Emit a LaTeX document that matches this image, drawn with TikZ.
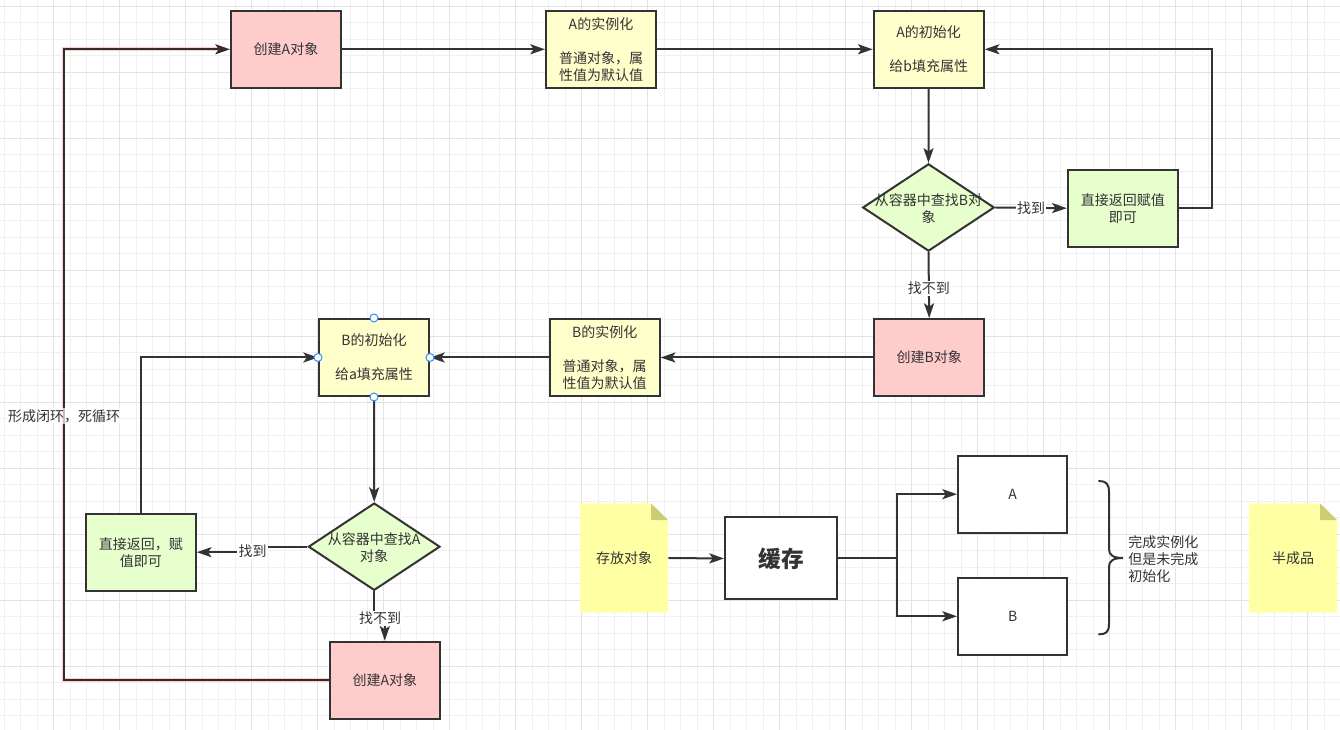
\documentclass[tikz,border=0pt]{standalone}
\usepackage{fontspec}
\newfontfamily\cjk{Noto Sans CJK SC}
\usetikzlibrary{arrows.meta,shapes.geometric,calc}
\definecolor{ln}{HTML}{333333}
\definecolor{loopln}{HTML}{3A2A2A}
\definecolor{pinkf}{HTML}{FFCCCC}
\definecolor{yelf}{HTML}{FFFFCC}
\definecolor{grnf}{HTML}{E6FFCC}
\definecolor{notef}{HTML}{FFFFA3}
\definecolor{foldf}{HTML}{CCCC77}
\definecolor{gridminor}{HTML}{F0F0F0}
\definecolor{gridmajor}{HTML}{E3E3E3}
\definecolor{hblue}{HTML}{2F8FFF}
\definecolor{halo}{HTML}{F5D2D2}
\tikzset{
  base/.style={draw=ln, line width=1.5pt, inner sep=0pt, align=center, text=ln, font=\cjk\fontsize{10.5}{12.75}\selectfont},
  stdbox/.style={base, rectangle, minimum width=82.5pt, minimum height=57.75pt},
  pinkbox/.style={stdbox, fill=pinkf},
  yelbox/.style={stdbox, fill=yelf},
  grnbox/.style={stdbox, fill=grnf},
  wbox/.style={stdbox, fill=white},
  dia/.style={base, diamond, fill=grnf, minimum width=98.7pt, minimum height=65.5pt},
  txt/.style={inner sep=0pt, align=center, text=ln, font=\cjk\fontsize{10.5}{12.75}\selectfont},
  elabel/.style={txt, fill=white, inner sep=1pt},
  arr/.style={draw=ln, line width=1.5pt, -{Stealth[length=11pt,width=7.5pt,inset=2.5pt]}},
  conn/.style={draw=ln, line width=1.5pt},
  handle/.style={circle, draw=hblue, fill=white, line width=0.75pt, minimum size=6pt, inner sep=0pt},
  notebox/.style={rectangle, inner sep=0pt, minimum width=66pt, minimum height=82pt, text=ln,
    font=\cjk\fontsize{10.5}{12.75}\selectfont,
    path picture={
      \fill[notef] (path picture bounding box.south west) -- (path picture bounding box.south east)
        -- ($(path picture bounding box.north east)+(0,16.7)$) -- ($(path picture bounding box.north east)+(-17,0)$)
        -- (path picture bounding box.north west) -- cycle;
      \fill[foldf] ($(path picture bounding box.north east)+(-17,0)$) -- ($(path picture bounding box.north east)+(-17,16.7)$)
        -- ($(path picture bounding box.north east)+(0,16.7)$) -- cycle;
    }},
  gminor/.style={draw=gridminor, line width=0.75pt},
  gmajor/.style={draw=gridmajor, line width=0.75pt}
}
\begin{document}
\begin{tikzpicture}[x=0.75pt,y=-0.75pt]
\useasboundingbox (0,0) rectangle (1340,730);
\fill[white] (0,0) rectangle (1340,730);
% grid
\foreach \i in {0,...,81} { \draw[gminor] ({4+16.5*\i},0) -- ({4+16.5*\i},730); }
\foreach \j in {0,...,44} { \draw[gminor] (0,{6.5+16.5*\j}) -- (1340,{6.5+16.5*\j}); }
\foreach \i in {0,...,19} { \draw[gmajor] ({53.5+66*\i},0) -- ({53.5+66*\i},730); }
\foreach \j in {0,...,10} { \draw[gmajor] (0,{6.5+66*\j}) -- (1340,{6.5+66*\j}); }

% nodes - top row
\node[pinkbox] (cA1) at (286,49.3) {创建A对象};
\node[yelbox] (iA) at (601,49.3) {A的实例化\\[12.75pt]普通对象，属\\性值为默认值};
\node[yelbox] (nA) at (928.7,49.3) {A的初始化\\[12.75pt]给b填充属性};
\node[dia] (d1) at (928.5,207.5) {};
\node[txt] (d1t) at (928.5,209) {从容器中查找B对\\象};
\node[grnbox] (rB) at (1122.8,208.2) {直接返回赋值\\即可};
\node[pinkbox] (cB) at (929.2,357.5) {创建B对象};
\node[yelbox] (iB) at (604.7,357.5) {B的实例化\\[12.75pt]普通对象，属\\性值为默认值};
\node[yelbox] (nB) at (374,357.5) {B的初始化\\[12.75pt]给a填充属性};
\node[dia] (d2) at (374.2,546.7) {};
\node[txt] (d2t) at (374.2,548) {从容器中查找A\\对象};
\node[grnbox] (rA) at (140.8,552.2) {直接返回，赋\\值即可};
\node[pinkbox] (cA2) at (384.8,680.2) {创建A对象};

% edges
\draw[arr] (cA1.east) -- (iA.west);
\draw[arr] (iA.east) -- (nA.west);
\draw[arr] (nA.south) -- (d1.north);
\draw[arr] (d1.east) -- (rB.west) node[elabel, pos=0.5] (l1) {找到};
\draw[arr] (rB.east) -- (1211.7,208.2) |- (nA.east);
\draw[arr] (d1.south) -- (cB.north) node[elabel, pos=0.55] (l2) {找不到};
\draw[arr] (cB.west) -- (iB.east);
\draw[arr] (iB.west) -- (nB.east);
\draw[arr] (nB.south) -- (d2.north);
\draw[arr] (d2.west) -- (252.5,546.7) |- (rA.east);
\node[elabel] (l3) at (252.5,551.5) {找到};
\draw[arr] (d2.south) -- (374.2,617) -| (cA2.north);
\node[elabel] (l4) at (380,618.3) {找不到};
\draw[arr] (rA.north) |- (nB.west);

% loop
\draw[draw=halo, line width=2.8pt] (cA2.west) -| (63.5,49.3) -- ($(cA1.west)+(-12,0)$);
\draw[arr, draw=loopln] (cA2.west) -| (63.5,49.3) -- (cA1.west);
\node[txt, fill=white, fill opacity=0.7, text opacity=1, inner sep=1pt] (loopl) at (64,416) {形成闭环，死循环};

% handles
\foreach \a in {north,south,east,west} { \node[handle] (h\a) at (nB.\a) {}; }

% bottom right
\node[notebox] (n1) at (624,558) {存放对象};
\node[base, rectangle, fill=white, minimum width=84pt, minimum height=61.5pt, font=\cjk\bfseries\fontsize{17}{20}\selectfont] (cache) at (781,558.5) {缓存};
\node[base, rectangle, fill=white, minimum width=82pt, minimum height=57.75pt] (bxA) at (1012.7,494.2) {A};
\node[base, rectangle, fill=white, minimum width=82pt, minimum height=57.75pt] (bxB) at (1012.7,616.3) {B};
\draw[arr] (n1.east) -- (cache.west);
\draw[arr] (cache.east) -- (897.3,558.5) |- (bxA.west);
\draw[arr] (cache.east) -- (897.3,558.5) |- (bxB.west);
\draw[conn, line cap=round] (1099,481) .. controls (1106,481) and (1109,484) .. (1109,492) -- (1109,549)
  .. controls (1109,555) and (1113,558) .. (1123,558)
  .. controls (1113,558) and (1109,561) .. (1109,567) -- (1109,624)
  .. controls (1109,632) and (1106,634.3) .. (1099,634.3);
\node[txt, align=left, anchor=west] (bt) at (1128,559.3) {完成实例化\\但是未完成\\初始化};
\node[notebox] (n2) at (1293,558) {半成品};
\end{tikzpicture}
\end{document}
